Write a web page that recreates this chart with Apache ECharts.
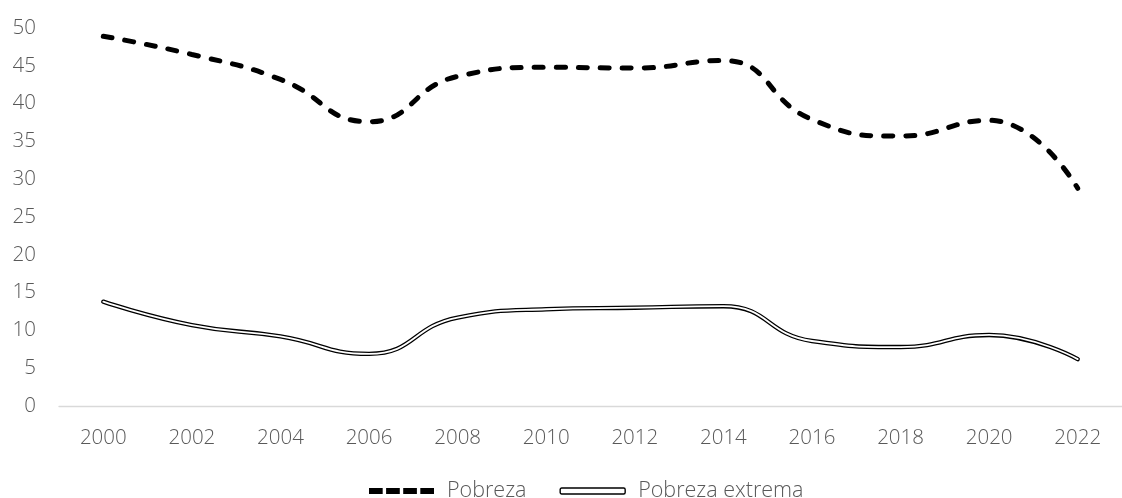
<!DOCTYPE html>
<html>
<head>
<meta charset="utf-8">
<script src="https://cdn.jsdelivr.net/npm/echarts@6/dist/echarts.min.js"></script>
<style>
  html, body { margin: 0; padding: 0; background: #fff; }
  #chart { width: 1122px; height: 498px; }
</style>
</head>
<body>
<div id="chart"></div>
<script>
// Años (cada dos años) y porcentajes de población
const years = ['2000', '2002', '2004', '2006', '2008', '2010', '2012', '2014', '2016', '2018', '2020', '2022'];
const pobreza = [48.9, 46.5, 43.2, 37.6, 43.6, 44.8, 44.7, 45.7, 37.9, 35.7, 37.8, 28.8];
const pobrezaExtrema = [13.8, 10.7, 9.2, 6.9, 11.7, 12.8, 13.0, 13.2, 8.6, 7.8, 9.4, 6.2];
const yTicks = { min: 0, max: 50, interval: 5 };

const FONT = '"Open Sans", "Liberation Sans", sans-serif';
const TEXT_COLOR = '#595959';

// icono de leyenda: cuatro trazos gruesos (línea discontinua)
const DASH_ICON = 'path://M0,0h14v6h-14z M17.5,0h14v6h-14z M35,0h14v6h-14z M52.5,0h14v6h-14z';

const chart = echarts.init(document.getElementById('chart'), null, { renderer: 'canvas' });

chart.setOption({
  animation: false,
  backgroundColor: '#ffffff',
  grid: { left: 59, right: -15, top: 28, bottom: 92, containLabel: false },
  xAxis: {
    type: 'category',
    data: years,
    boundaryGap: true,
    axisLine: { show: true, lineStyle: { color: '#d9d9d9', width: 1.3 } },
    axisTick: { show: false },
    axisLabel: { color: TEXT_COLOR, fontFamily: FONT, fontSize: 20.5, fontWeight: 300, margin: 22 },
    splitLine: { show: false }
  },
  yAxis: {
    type: 'value',
    min: yTicks.min,
    max: yTicks.max,
    interval: yTicks.interval,
    axisLine: { show: false },
    axisTick: { show: false },
    splitLine: { show: false },
    axisLabel: { color: TEXT_COLOR, fontFamily: FONT, fontSize: 20.5, fontWeight: 300, margin: 23 }
  },
  legend: {
    left: 369,
    bottom: -4,
    padding: 0,
    itemWidth: 65,
    itemHeight: 6,
    itemGap: 33,
    symbolKeepAspect: false,
    textStyle: { color: TEXT_COLOR, fontFamily: FONT, fontSize: 21.5, fontWeight: 300, padding: [0, 0, 0, 8] },
    data: [
      { name: 'Pobreza', icon: DASH_ICON, itemStyle: { color: '#000000', borderWidth: 0 } },
      {
        name: 'Pobreza extrema',
        icon: 'roundRect',
        itemStyle: { color: '#ffffff', borderColor: '#000000', borderWidth: 1.4 }
      }
    ]
  },
  series: [
    {
      name: 'Pobreza',
      type: 'line',
      data: pobreza,
      smooth: 0.5,
      symbol: 'none',
      lineStyle: { color: '#000000', width: 5, type: [9, 13], cap: 'round' },
      itemStyle: { color: '#000000' }
    },
    {
      name: 'Pobreza extrema',
      type: 'line',
      data: pobrezaExtrema,
      smooth: 0.5,
      symbol: 'none',
      lineStyle: { color: '#000000', width: 4.4, cap: 'round' },
      itemStyle: { color: '#000000' }
    },
    {
      // trazo blanco interior que forma la doble línea
      name: 'Pobreza extrema interior',
      type: 'line',
      data: pobrezaExtrema,
      smooth: 0.5,
      symbol: 'none',
      lineStyle: { color: '#ffffff', width: 1.8, cap: 'round' },
      itemStyle: { color: '#ffffff' },
      silent: true
    }
  ]
});
</script>
</body>
</html>
